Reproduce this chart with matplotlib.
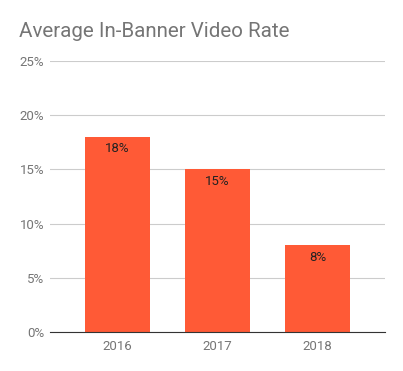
import matplotlib.pyplot as plt
import numpy as np

years = ['2016', '2017', '2018']
rates = [18, 15, 8]
yticks = [0, 5, 10, 15, 20, 25]

plt.rcParams['font.family'] = ['Roboto', 'DejaVu Sans']

fig = plt.figure(figsize=(4.03, 3.71), dpi=100)
ax = fig.add_axes([0.124, 0.105, 0.831, 0.731])

x = np.arange(len(years))
bars = ax.bar(x, rates, width=0.65, color='#ff5a36', zorder=3)
for b, v in zip(bars, rates):
    ax.text(b.get_x() + b.get_width() / 2, v - 0.5, f'{v}%', ha='center', va='top',
            fontsize=9.5, color='#222222', zorder=4)

ax.set_xlim(-0.675, 2.675)
ax.set_ylim(0, 25)
ax.set_xticks(x)
ax.set_xticklabels(years)
ax.set_yticks(yticks)
ax.set_yticklabels([f'{t}%' for t in yticks])
ax.tick_params(axis='both', length=0, labelsize=9.5, labelcolor='#757575')
ax.tick_params(axis='x', pad=6)
ax.tick_params(axis='y', pad=4)
ax.grid(axis='y', color='#cccccc', linewidth=0.8, zorder=0)
for s in ['top', 'right', 'left']:
    ax.spines[s].set_visible(False)
ax.spines['bottom'].set_color('#333333')
ax.spines['bottom'].set_zorder(5)

fig.text(0.047, 0.915, 'Average In-Banner Video Rate', fontsize=14.8, color='#757575',
         ha='left', va='center')

fig.savefig('out.png', dpi=100)
